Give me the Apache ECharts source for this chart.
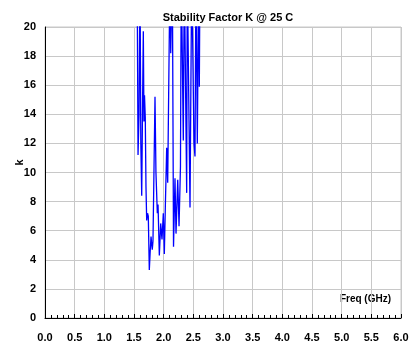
<!DOCTYPE html>
<html>
<head>
<meta charset="utf-8">
<script src="https://cdn.jsdelivr.net/npm/echarts@6/dist/echarts.min.js"></script>
<style>
  html, body { margin: 0; padding: 0; background: #fff; }
  #chart { width: 419px; height: 345px; }
</style>
</head>
<body>
<div id="chart"></div>
<script>
// 频率 (GHz) 与 K 值，超过 20 的部分被坐标轴截掉
const freq = [1.50, 1.556, 1.568, 1.585, 1.601, 1.615, 1.630, 1.645, 1.657, 1.668, 1.677, 1.690,
  1.702, 1.714, 1.728, 1.741, 1.758, 1.772, 1.787, 1.800, 1.808, 1.820, 1.854, 1.870, 1.893,
  1.905, 1.927, 1.950, 1.972, 1.994, 2.011, 2.030, 2.051, 2.068, 2.107, 2.119, 2.146, 2.166,
  2.191, 2.208, 2.237, 2.259, 2.283, 2.297, 2.331, 2.348, 2.388, 2.398, 2.444, 2.473, 2.511,
  2.528, 2.545, 2.567, 2.591, 2.601, 2.62]
const kValues = [30, 21, 11.2, 14, 24, 12, 8.4, 15, 19.7, 13.5, 15.3, 13.8,
  9, 6.7, 7.2, 7.0, 3.3, 4.5, 5.6, 5.0, 4.7, 5.3, 15.2, 10, 7.2,
  7.8, 4.3, 6.5, 5.4, 7.2, 4.4, 8, 11.7, 9.3, 24, 18.2, 24, 4.9,
  9.6, 5.8, 9.5, 6.3, 10.4, 24, 12.2, 24, 8.6, 24, 7.6, 24, 12.0,
  11.1, 24, 12.0, 24, 15.9, 30]

const labelFont = { color: '#000', fontWeight: 'bold', fontSize: 11, fontFamily: 'Liberation Sans, Arial' }

let chart = echarts.init(document.getElementById('chart'))
chart.setOption({
  animation: false,
  backgroundColor: '#fff',
  title: {
    text: 'Stability Factor K @ 25 C',
    left: 223,
    textAlign: 'center',
    top: 7,
    textStyle: { fontSize: 11, fontWeight: 'bold', color: '#000', fontFamily: 'Liberation Sans, Arial' }
  },
  grid: {
    left: 45, right: 18, top: 27, bottom: 27,
    outerBoundsMode: 'none',
    containLabel: false,
    show: true, borderColor: '#c8c8c8', borderWidth: 1
  },
  graphic: [{
    type: 'text',
    right: 28,
    top: 294,
    style: { text: 'Freq (GHz)', fill: '#000', font: 'bold 10px Liberation Sans, Arial' }
  }],
  xAxis: {
    type: 'value',
    min: 0, max: 6, interval: 0.5,
    axisLine: { lineStyle: { color: '#000', width: 1 } },
    axisTick: { show: true, inside: true, length: 4, lineStyle: { color: '#000' } },
    minorTick: { show: true, splitNumber: 5, length: 3, lineStyle: { color: '#000' } },
    splitLine: { show: true, lineStyle: { color: '#c8c8c8' } },
    axisLabel: Object.assign({ margin: 14, formatter: v => v.toFixed(1) }, labelFont)
  },
  yAxis: {
    type: 'value',
    min: 0, max: 20, interval: 2,
    name: 'k',
    nameLocation: 'middle',
    nameGap: 20,
    nameMoveOverlap: false,
    nameTextStyle: { fontWeight: 'bold', fontSize: 11, color: '#000', fontFamily: 'Liberation Sans, Arial', padding: [0, 0, 0, 20] },
    axisLine: { show: true, lineStyle: { color: '#000', width: 1 } },
    axisTick: { show: false },
    splitLine: { show: true, lineStyle: { color: '#c8c8c8' } },
    axisLabel: Object.assign({ margin: 9 }, labelFont)
  },
  series: [{
    type: 'line',
    data: freq.map((f, i) => [f, kValues[i]]),
    showSymbol: false,
    clip: true,
    lineStyle: { color: '#0000ff', width: 1.3 }
  }]
})
</script>
</body>
</html>
